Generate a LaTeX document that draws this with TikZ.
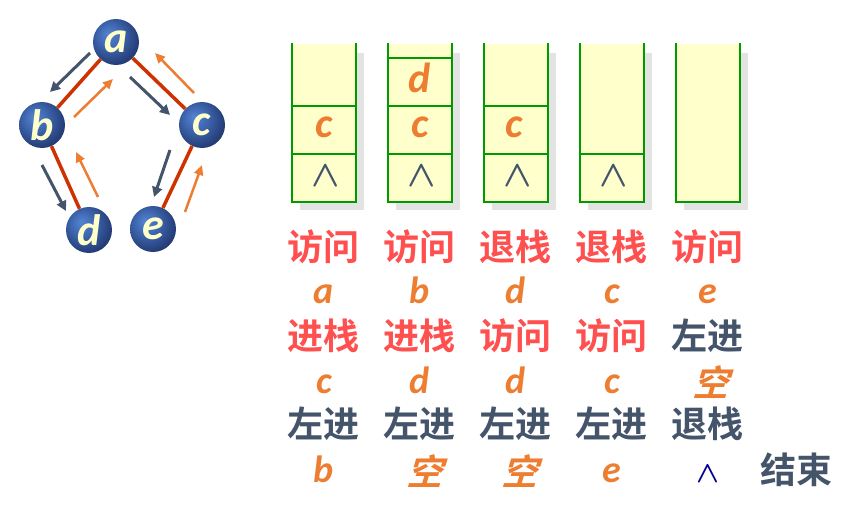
\documentclass[tikz,border=0pt]{standalone}
\usepackage{fontspec}
\usepackage{graphicx}
\setmainfont{Carlito}
\newfontfamily\cjk{Noto Sans CJK SC Bold}
\newfontfamily\cjkslant{Noto Sans CJK SC Bold}[FakeSlant=0.3]
\usetikzlibrary{arrows.meta,shapes.geometric}
\definecolor{edgered}{HTML}{CC3300}
\definecolor{slate}{HTML}{44546A}
\definecolor{orng}{HTML}{ED7D31}
\definecolor{redtxt}{HTML}{FF5050}
\definecolor{stackgreen}{HTML}{009900}
\definecolor{stackfill}{HTML}{FFFFCC}
\definecolor{shadowgray}{HTML}{E3E3E3}
\definecolor{navy}{HTML}{000099}
\pgfdeclareradialshading{nodeball}{\pgfpoint{-9bp}{9bp}}{%
  rgb(0bp)=(0.33,0.52,0.82);
  rgb(12bp)=(0.25,0.41,0.70);
  rgb(28bp)=(0.15,0.25,0.48);
  rgb(40bp)=(0.10,0.17,0.34);
  rgb(60bp)=(0.10,0.17,0.34)}
\newcommand{\bignil}{\scalebox{3.7}{\boldmath$\wedge$}}
\newcommand{\smallnil}{\scalebox{3.0}{\boldmath$\wedge$}}
\tikzset{
  tn/.style={circle, minimum size=46pt, inner sep=0pt, shading=nodeball,
    text=stackfill, font=\fontsize{44}{44}\selectfont\bfseries\itshape},
  tedge/.style={draw=edgered, line width=3.5pt},
  goarrow/.style={draw=slate, line width=3pt, -{Triangle[length=10pt,width=10pt]}},
  backarrow/.style={draw=orng, line width=2.5pt, -{Triangle[length=10pt,width=9pt]}},
  stackshadow/.style={fill=shadowgray, draw=none},
  stackbody/.style={fill=stackfill, draw=none},
  stackline/.style={draw=stackgreen, line width=2.5pt},
  cellletter/.style={anchor=base, text=orng, font=\fontsize{42}{42}\selectfont\bfseries\itshape, inner sep=0pt},
  cellnil/.style={anchor=base, text=slate, inner sep=0pt},
  redword/.style={text=redtxt, font=\cjk\fontsize{36}{36}\selectfont, inner sep=0pt},
  darkword/.style={text=slate, font=\cjk\fontsize{36}{36}\selectfont, inner sep=0pt},
  rowletter/.style={anchor=base, text=orng, font=\fontsize{38}{38}\selectfont\bfseries\itshape, inner sep=0pt},
  emptyword/.style={text=orng, font=\cjkslant\fontsize{36}{36}\selectfont, inner sep=0pt},
  lastnil/.style={anchor=base, text=navy, inner sep=0pt}
}
\begin{document}
\begin{tikzpicture}[x=1pt,y=-1pt]
\path[use as bounding box] (0,0) rectangle (857,516);
% tree
\node[tn] (a) at (116,42) {a};
\node[tn] (b) at (42,125) {b};
\node[tn] (c) at (202,125) {c};
\node[tn] (d) at (89,230) {d};
\node[tn] (e) at (153,229) {e};
\draw[tedge] (a) -- (b);
\draw[tedge] (a) -- (c);
\draw[tedge] (b) -- (d);
\draw[tedge] (c) -- (e);
% traversal arrows
\coordinate (ab1) at (90,53);  \coordinate (ab2) at (50,92);
\coordinate (ba1) at (74,117); \coordinate (ba2) at (113,79);
\coordinate (ac1) at (130,77); \coordinate (ac2) at (170,115);
\coordinate (ca1) at (194,93); \coordinate (ca2) at (155,53);
\coordinate (bd1) at (42,165); \coordinate (bd2) at (66,211);
\coordinate (db1) at (98,197); \coordinate (db2) at (76,152);
\coordinate (ce1) at (170,150);\coordinate (ce2) at (154,197);
\coordinate (ec1) at (185,212);\coordinate (ec2) at (202,165);
\draw[goarrow] (ab1) -- (ab2);
\draw[goarrow] (ac1) -- (ac2);
\draw[goarrow] (bd1) -- (bd2);
\draw[goarrow] (ce1) -- (ce2);
\draw[backarrow] (ba1) -- (ba2);
\draw[backarrow] (ca1) -- (ca2);
\draw[backarrow] (db1) -- (db2);
\draw[backarrow] (ec1) -- (ec2);
% stacks
\foreach \L in {292,388,484,580,676}{
  \fill[stackshadow] (\L+8,53) rectangle (\L+72,210);
  \fill[stackbody] (\L,44) rectangle (\L+64,202);
}
\draw[stackline] (292,43) -- (292,202) -- (356,202) -- (356,43);
\draw[stackline] (292,106) -- (356,106) (292,154) -- (356,154);
\draw[stackline] (388,43) -- (388,202) -- (452,202) -- (452,43);
\draw[stackline] (388,58) -- (452,58) (388,106) -- (452,106) (388,154) -- (452,154);
\draw[stackline] (484,43) -- (484,202) -- (548,202) -- (548,43);
\draw[stackline] (484,106) -- (548,106) (484,154) -- (548,154);
\draw[stackline] (580,43) -- (580,202) -- (644,202) -- (644,43);
\draw[stackline] (580,154) -- (644,154);
\draw[stackline] (676,43) -- (676,202) -- (740,202) -- (740,43);
% stack contents
\node[cellletter] (s1c) at (324,138) {c};
\node[cellnil] (s1n) at (326,186) {\bignil};
\node[cellletter] (s2d) at (420,93) {d};
\node[cellletter] (s2c) at (420,138) {c};
\node[cellnil] (s2n) at (422,186) {\bignil};
\node[cellletter] (s3c) at (514,138) {c};
\node[cellnil] (s3n) at (518,186) {\bignil};
\node[cellnil] (s4n) at (614,186) {\bignil};
% row 1
\node[redword] (r1a) at (323,247) {访问};
\node[redword] (r1b) at (419,247) {访问};
\node[redword] (r1c) at (515,247) {退栈};
\node[redword] (r1d) at (611,247) {退栈};
\node[redword] (r1e) at (707,247) {访问};
% row 2
\node[rowletter] (r2a) at (324,303) {a};
\node[rowletter] (r2b) at (420,303) {b};
\node[rowletter] (r2c) at (516,303) {d};
\node[rowletter] (r2d) at (612,303) {c};
\node[rowletter] (r2e) at (708,303) {e};
% row 3
\node[redword] (r3a) at (323,336) {进栈};
\node[redword] (r3b) at (419,336) {进栈};
\node[redword] (r3c) at (515,336) {访问};
\node[redword] (r3d) at (611,336) {访问};
\node[darkword] (r3e) at (707,336) {左进};
% row 4
\node[rowletter] (r4a) at (324,393) {c};
\node[rowletter] (r4b) at (420,393) {d};
\node[rowletter] (r4c) at (516,393) {d};
\node[rowletter] (r4d) at (612,393) {c};
\node[emptyword] (r4e) at (710,382) {空};
% row 5
\node[darkword] (r5a) at (323,424) {左进};
\node[darkword] (r5b) at (419,424) {左进};
\node[darkword] (r5c) at (515,424) {左进};
\node[darkword] (r5d) at (611,424) {左进};
\node[darkword] (r5e) at (707,424) {退栈};
% row 6
\node[rowletter] (r6a) at (324,482) {b};
\node[emptyword] (r6b) at (424,471) {空};
\node[emptyword] (r6c) at (519,471) {空};
\node[rowletter] (r6d) at (612,482) {e};
\node[lastnil] (r6e) at (708,482) {\smallnil};
\node[darkword] (fin) at (796,470) {结束};
\end{tikzpicture}
\end{document}
